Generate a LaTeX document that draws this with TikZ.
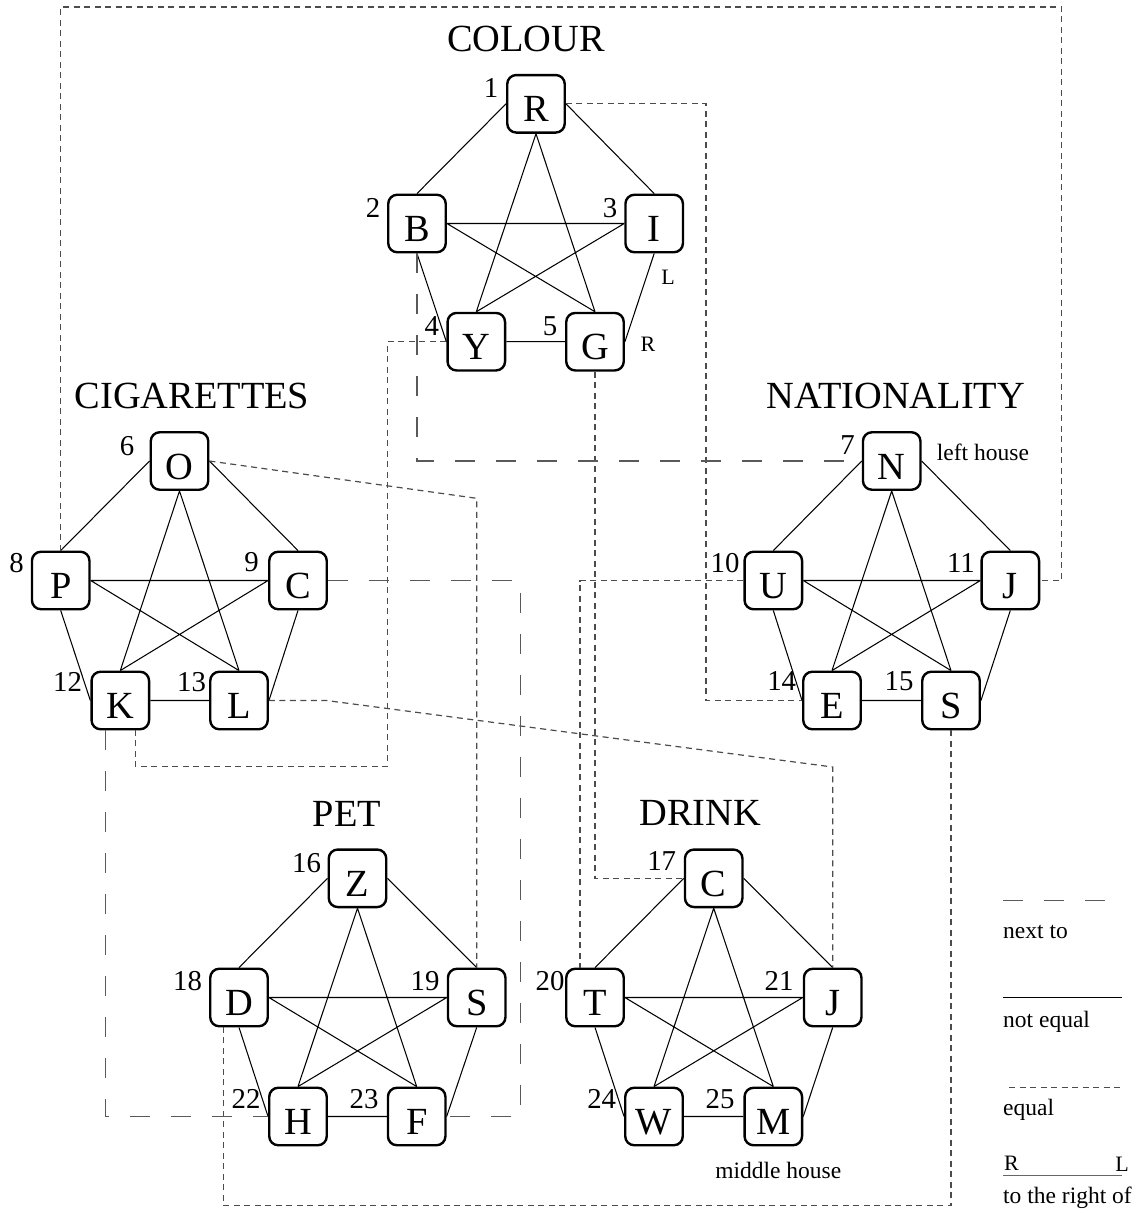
\documentclass[tikz,border=0pt]{standalone}
\usepackage{fontspec}
\setmainfont{Liberation Serif}
\newcommand\titlesize{\fontsize{38.4}{40}\selectfont}
\newcommand\numsize{\fontsize{28.8}{30}\selectfont}
\newcommand\smallsize{\fontsize{23.5}{25}\selectfont}
\newcommand\tinysize{\fontsize{22}{24}\selectfont}
% complete graph on five boxes: top, left, right, bottom-left, bottom-right
\newcommand\kfive[5]{%
  \draw[neq] (#1.west) -- (#2.north)
             (#1.east) -- (#3.north)
             (#1.south) -- (#4.north)
             (#1.south) -- (#5.north)
             (#2.east) -- (#3.west)
             (#2.east) -- (#5.north)
             (#2.south) -- (#4.west)
             (#3.west) -- (#4.north)
             (#3.south) -- (#5.east)
             (#4.east) -- (#5.west);}
\begin{document}
\begin{tikzpicture}[x=1pt,y=-1pt,
  box/.style={draw, line width=2.4pt, rounded corners=9pt, fill=white,
    minimum width=57.5pt, minimum height=57.5pt, inner sep=0pt,
    text height=36pt, text depth=0pt, font=\titlesize},
  title/.style={anchor=base, inner sep=0pt, font=\titlesize},
  num/.style={anchor=base, inner sep=0pt, font=\numsize},
  note/.style={anchor=base west, inner sep=0pt, font=\smallsize},
  side/.style={anchor=base, inner sep=0pt, font=\tinysize},
  neq/.style={line width=1.05pt, black},
  eq/.style={line width=1.2pt, black!70, dash pattern=on 6pt off 4.5pt},
  nextto/.style={line width=1.3pt, black!65, dash pattern=on 20pt off 21pt},
  rightof/.style={line width=1.6pt, black!60}]
\useasboundingbox (0,0) rectangle (1146,1213);

% ---------- COLOUR ----------
\node[title] (tCol) at (526,51.7) {COLOUR};
\node[box] (cR) at (536,103.8) {R};
\node[box] (cB) at (417,223.5) {B};
\node[box] (cI) at (654.2,223.5) {I};
\node[box] (cY) at (476.3,341.7) {Y};
\node[box] (cG) at (595,341.7) {G};
\node[num] (n1) at (491,97) {1};
\node[num] (n2) at (373,217) {2};
\node[num] (n3) at (610,217) {3};
\node[num] (n4) at (431.7,335) {4};
\node[num] (n5) at (550,335) {5};
\node[side] (sL) at (668,284) {L};
\node[side] (sR) at (648,351) {R};

% ---------- CIGARETTES ----------
\node[title] (tCig) at (192,408) {CIGARETTES};
\node[box] (gO) at (179.5,461) {O};
\node[box] (gP) at (60.7,580.5) {P};
\node[box] (gC) at (298,580.5) {C};
\node[box] (gK) at (120.3,700.5) {K};
\node[box] (gL) at (239,700.5) {L};
\node[num] (n6) at (127,455) {6};
\node[num] (n8) at (16.5,572.7) {8};
\node[num] (n9) at (251.5,571.7) {9};
\node[num] (n12) at (67.5,691.7) {12};
\node[num] (n13) at (191.5,691.7) {13};

% ---------- NATIONALITY ----------
\node[title] (tNat) at (896,408) {NATIONALITY};
\node[box] (nN) at (891.7,461) {N};
\node[box] (nU) at (773.3,580.5) {U};
\node[box] (nJ) at (1010.3,580.5) {J};
\node[box] (nE) at (832,700.5) {E};
\node[box] (nS) at (951,700.5) {S};
\node[num] (n7) at (847.5,454) {7};
\node[num] (n10) at (725,572.7) {10};
\node[num] (n11) at (961,572.7) {11};
\node[num] (n14) at (781.7,690.7) {14};
\node[num] (n15) at (899,690.7) {15};
\node[note] (leftHouse) at (936.7,460) {left house};

% ---------- PET ----------
\node[title] (tPet) at (347,826.5) {PET};
\node[box] (pZ) at (357.5,878.3) {Z};
\node[box] (pD) at (239,997.5) {D};
\node[box] (pS) at (476.7,997.5) {S};
\node[box] (pH) at (298,1116.5) {H};
\node[box] (pF) at (416.7,1116.5) {F};
\node[num] (n16) at (306.5,872) {16};
\node[num] (n18) at (187.5,990) {18};
\node[num] (n19) at (425,990) {19};
\node[num] (n22) at (246,1108) {22};
\node[num] (n23) at (364,1108) {23};

% ---------- DRINK ----------
\node[title] (tDrink) at (700.3,825) {DRINK};
\node[box] (dC) at (713.7,878.3) {C};
\node[box] (dT) at (595,997.5) {T};
\node[box] (dJ) at (832.7,997.5) {J};
\node[box] (dW) at (654,1116.5) {W};
\node[box] (dM) at (773.3,1116.5) {M};
\node[num] (n17) at (661.7,870.7) {17};
\node[num] (n20) at (550,990) {20};
\node[num] (n21) at (779,990) {21};
\node[num] (n24) at (601.7,1108) {24};
\node[num] (n25) at (720,1108) {25};
\node[anchor=base, inner sep=0pt, font=\smallsize] (midHouse) at (778.3,1178) {middle house};

% ---------- not equal: inside each group ----------
\kfive{cR}{cB}{cI}{cY}{cG}
\kfive{gO}{gP}{gC}{gK}{gL}
\kfive{nN}{nU}{nJ}{nE}{nS}
\kfive{pZ}{pD}{pS}{pH}{pF}
\kfive{dC}{dT}{dJ}{dW}{dM}

% ---------- equal ----------
\coordinate (frameTR) at (1061.7,7);
\coordinate (reCol) at (706,400);
\coordinate (ykCorner) at (387.3,766.5);
\coordinate (osRow) at (0,498.3);
\coordinate (ljRow) at (0,767);
\coordinate (sdRow) at (0,1205.5);
\draw[eq] (gP.north) |- (frameTR) |- (nJ.east);
\draw[eq] (cR.east) -| (reCol) |- (nE.west);
\draw[eq] (cY.west) -| (ykCorner) -| ([xshift=15pt]gK.south);
\draw[eq] (gO.east) -- (pS.north |- osRow) -- (pS.north);
\draw[eq] (gL.east) -- ++(57.5,0) -- (dJ.north |- ljRow) -- (dJ.north);
\draw[eq] (cG.south) |- (dC.west);
\draw[eq] (nU.west) -| ([xshift=-15pt]dT.north);
\draw[eq] (nS.south) -- (nS.south |- sdRow) -| ([xshift=-15.7pt]pD.south);

% ---------- next to ----------
\coordinate (cfCol) at (520.7,800);
\draw[nextto] (cB.south) |- (nN.west);
\draw[nextto] (gC.east) -| (cfCol) |- (pF.east);
\draw[nextto] ([xshift=-14.5pt]gK.south) |- (pH.west);

% ---------- key ----------
\coordinate (keyA1) at (1003,900.5);  \coordinate (keyA2) at (1107,900.5);
\coordinate (keyB1) at (1003,997.5);  \coordinate (keyB2) at (1122,997.5);
\coordinate (keyC1) at (1009,1087.5); \coordinate (keyC2) at (1122,1087.5);
\coordinate (keyD1) at (1003,1175.5); \coordinate (keyD2) at (1122,1175.5);
\draw[nextto] (keyA1) -- (keyA2);
\draw[neq] (keyB1) -- (keyB2);
\draw[eq] (keyC1) -- (keyC2);
\draw[rightof] (keyD1) -- (keyD2);
\node[note] (kNext) at (1003,938) {next to};
\node[note] (kNeq) at (1003,1027) {not equal};
\node[note] (kEq) at (1003,1115) {equal};
\node[anchor=base west, inner sep=0pt, font=\tinysize] (kR) at (1004,1170) {R};
\node[anchor=base east, inner sep=0pt, font=\tinysize] (kL) at (1129,1171) {L};
\node[note] (kRight) at (1003,1203) {to the right of};
\end{tikzpicture}
\end{document}
